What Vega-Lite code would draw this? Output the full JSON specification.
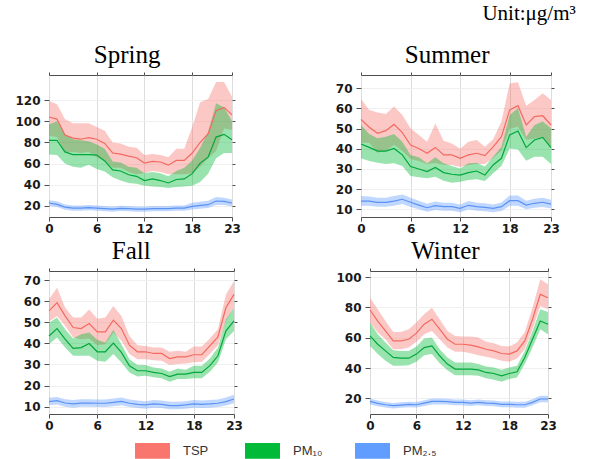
{
"$schema": "https://vega.github.io/schema/vega-lite/v6.json",
"padding": {"left": 13, "top": 3, "right": 0, "bottom": 0},
"title": {"text": "Unit:μg/m³", "anchor": "end", "fontSize": 21, "dx": 16, "offset": 1, "frame": "bounds", "baseline": "alphabetic"},
"datasets": {"d": [
{"s":"Spring","h":0,"p":"TSP","m":104,"lo":86,"hi":119},
{"s":"Spring","h":1,"p":"TSP","m":102,"lo":85,"hi":116},
{"s":"Spring","h":2,"p":"TSP","m":87,"lo":71,"hi":102},
{"s":"Spring","h":3,"p":"TSP","m":84,"lo":71,"hi":98},
{"s":"Spring","h":4,"p":"TSP","m":83,"lo":70,"hi":98},
{"s":"Spring","h":5,"p":"TSP","m":84.5,"lo":71,"hi":98},
{"s":"Spring","h":6,"p":"TSP","m":83,"lo":66,"hi":94.5},
{"s":"Spring","h":7,"p":"TSP","m":79,"lo":63,"hi":91},
{"s":"Spring","h":8,"p":"TSP","m":70,"lo":56,"hi":80},
{"s":"Spring","h":9,"p":"TSP","m":69,"lo":56,"hi":79},
{"s":"Spring","h":10,"p":"TSP","m":67,"lo":52,"hi":76},
{"s":"Spring","h":11,"p":"TSP","m":65.5,"lo":50,"hi":75},
{"s":"Spring","h":12,"p":"TSP","m":60.5,"lo":51,"hi":68},
{"s":"Spring","h":13,"p":"TSP","m":62,"lo":53,"hi":69},
{"s":"Spring","h":14,"p":"TSP","m":61.5,"lo":52,"hi":68},
{"s":"Spring","h":15,"p":"TSP","m":58.5,"lo":50,"hi":66},
{"s":"Spring","h":16,"p":"TSP","m":63,"lo":50,"hi":74},
{"s":"Spring","h":17,"p":"TSP","m":63,"lo":50,"hi":74},
{"s":"Spring","h":18,"p":"TSP","m":70,"lo":51,"hi":94.5},
{"s":"Spring","h":19,"p":"TSP","m":80,"lo":57,"hi":118},
{"s":"Spring","h":20,"p":"TSP","m":88,"lo":65,"hi":121},
{"s":"Spring","h":21,"p":"TSP","m":110,"lo":72,"hi":137},
{"s":"Spring","h":22,"p":"TSP","m":113,"lo":93,"hi":137},
{"s":"Spring","h":23,"p":"TSP","m":106,"lo":92,"hi":123},
{"s":"Spring","h":0,"p":"PM₁₀","m":82,"lo":68.5,"hi":97},
{"s":"Spring","h":1,"p":"PM₁₀","m":82,"lo":68,"hi":100},
{"s":"Spring","h":2,"p":"PM₁₀","m":71,"lo":60,"hi":88},
{"s":"Spring","h":3,"p":"PM₁₀","m":68.5,"lo":57,"hi":83},
{"s":"Spring","h":4,"p":"PM₁₀","m":68.5,"lo":56,"hi":82},
{"s":"Spring","h":5,"p":"PM₁₀","m":68.5,"lo":59,"hi":81},
{"s":"Spring","h":6,"p":"PM₁₀","m":68,"lo":55,"hi":78},
{"s":"Spring","h":7,"p":"PM₁₀","m":62.5,"lo":52.5,"hi":74},
{"s":"Spring","h":8,"p":"PM₁₀","m":54,"lo":47,"hi":62},
{"s":"Spring","h":9,"p":"PM₁₀","m":53,"lo":44,"hi":61},
{"s":"Spring","h":10,"p":"PM₁₀","m":49.5,"lo":41.7,"hi":57},
{"s":"Spring","h":11,"p":"PM₁₀","m":48,"lo":41,"hi":56},
{"s":"Spring","h":12,"p":"PM₁₀","m":44,"lo":39,"hi":51},
{"s":"Spring","h":13,"p":"PM₁₀","m":45.5,"lo":38.5,"hi":52},
{"s":"Spring","h":14,"p":"PM₁₀","m":44,"lo":38,"hi":51},
{"s":"Spring","h":15,"p":"PM₁₀","m":41.7,"lo":37,"hi":48},
{"s":"Spring","h":16,"p":"PM₁₀","m":45,"lo":38,"hi":53},
{"s":"Spring","h":17,"p":"PM₁₀","m":45.5,"lo":38.5,"hi":56},
{"s":"Spring","h":18,"p":"PM₁₀","m":50.5,"lo":39,"hi":63},
{"s":"Spring","h":19,"p":"PM₁₀","m":60.5,"lo":42.6,"hi":75},
{"s":"Spring","h":20,"p":"PM₁₀","m":66,"lo":50.5,"hi":90},
{"s":"Spring","h":21,"p":"PM₁₀","m":85,"lo":65,"hi":117},
{"s":"Spring","h":22,"p":"PM₁₀","m":87.6,"lo":70,"hi":113},
{"s":"Spring","h":23,"p":"PM₁₀","m":82.5,"lo":70,"hi":100},
{"s":"Spring","h":0,"p":"PM₂.₅","m":22.8,"lo":20,"hi":25.5},
{"s":"Spring","h":1,"p":"PM₂.₅","m":21.5,"lo":19,"hi":24.5},
{"s":"Spring","h":2,"p":"PM₂.₅","m":19,"lo":16.5,"hi":21.5},
{"s":"Spring","h":3,"p":"PM₂.₅","m":18,"lo":15.5,"hi":20.5},
{"s":"Spring","h":4,"p":"PM₂.₅","m":18,"lo":15.5,"hi":20.5},
{"s":"Spring","h":5,"p":"PM₂.₅","m":18.5,"lo":16,"hi":21},
{"s":"Spring","h":6,"p":"PM₂.₅","m":18,"lo":15.5,"hi":20.5},
{"s":"Spring","h":7,"p":"PM₂.₅","m":17.5,"lo":15,"hi":20},
{"s":"Spring","h":8,"p":"PM₂.₅","m":17,"lo":14.5,"hi":19.5},
{"s":"Spring","h":9,"p":"PM₂.₅","m":17.8,"lo":15.3,"hi":20.3},
{"s":"Spring","h":10,"p":"PM₂.₅","m":17.5,"lo":15,"hi":20},
{"s":"Spring","h":11,"p":"PM₂.₅","m":17,"lo":14.5,"hi":19.5},
{"s":"Spring","h":12,"p":"PM₂.₅","m":17,"lo":14.5,"hi":19.5},
{"s":"Spring","h":13,"p":"PM₂.₅","m":17.5,"lo":15,"hi":20},
{"s":"Spring","h":14,"p":"PM₂.₅","m":17.5,"lo":15,"hi":20},
{"s":"Spring","h":15,"p":"PM₂.₅","m":17.5,"lo":15,"hi":20},
{"s":"Spring","h":16,"p":"PM₂.₅","m":18,"lo":15.5,"hi":20.5},
{"s":"Spring","h":17,"p":"PM₂.₅","m":18,"lo":15.5,"hi":20.5},
{"s":"Spring","h":18,"p":"PM₂.₅","m":19.7,"lo":16.7,"hi":23},
{"s":"Spring","h":19,"p":"PM₂.₅","m":20.6,"lo":17.3,"hi":24},
{"s":"Spring","h":20,"p":"PM₂.₅","m":21.2,"lo":18,"hi":25},
{"s":"Spring","h":21,"p":"PM₂.₅","m":24.7,"lo":21,"hi":28.5},
{"s":"Spring","h":22,"p":"PM₂.₅","m":24.4,"lo":21,"hi":27.8},
{"s":"Spring","h":23,"p":"PM₂.₅","m":22.8,"lo":19.5,"hi":26},
{"s":"Summer","h":0,"p":"TSP","m":54.6,"lo":43,"hi":64.7},
{"s":"Summer","h":1,"p":"TSP","m":50.7,"lo":43,"hi":59.3},
{"s":"Summer","h":2,"p":"TSP","m":47.7,"lo":38,"hi":58},
{"s":"Summer","h":3,"p":"TSP","m":49,"lo":39,"hi":57.3},
{"s":"Summer","h":4,"p":"TSP","m":52.1,"lo":42,"hi":61},
{"s":"Summer","h":5,"p":"TSP","m":48,"lo":39,"hi":56.8},
{"s":"Summer","h":6,"p":"TSP","m":41.9,"lo":35,"hi":50.2},
{"s":"Summer","h":7,"p":"TSP","m":40.2,"lo":34,"hi":46.9},
{"s":"Summer","h":8,"p":"TSP","m":37.8,"lo":32.5,"hi":43.5},
{"s":"Summer","h":9,"p":"TSP","m":40.7,"lo":33,"hi":52.6},
{"s":"Summer","h":10,"p":"TSP","m":37,"lo":32,"hi":44},
{"s":"Summer","h":11,"p":"TSP","m":37,"lo":32,"hi":42.7},
{"s":"Summer","h":12,"p":"TSP","m":35.3,"lo":31,"hi":40},
{"s":"Summer","h":13,"p":"TSP","m":37,"lo":32,"hi":43.5},
{"s":"Summer","h":14,"p":"TSP","m":37.8,"lo":32.5,"hi":44.4},
{"s":"Summer","h":15,"p":"TSP","m":36.6,"lo":32.5,"hi":41},
{"s":"Summer","h":16,"p":"TSP","m":41,"lo":35.5,"hi":44.7},
{"s":"Summer","h":17,"p":"TSP","m":46,"lo":39,"hi":53.5},
{"s":"Summer","h":18,"p":"TSP","m":59.3,"lo":50,"hi":72.5},
{"s":"Summer","h":19,"p":"TSP","m":61.4,"lo":51,"hi":73},
{"s":"Summer","h":20,"p":"TSP","m":51.8,"lo":44.5,"hi":61.4},
{"s":"Summer","h":21,"p":"TSP","m":56,"lo":45,"hi":64.2},
{"s":"Summer","h":22,"p":"TSP","m":56.4,"lo":46,"hi":67.5},
{"s":"Summer","h":23,"p":"TSP","m":51.8,"lo":41,"hi":64.2},
{"s":"Summer","h":0,"p":"PM₁₀","m":42.4,"lo":35.3,"hi":51.8},
{"s":"Summer","h":1,"p":"PM₁₀","m":40.7,"lo":34,"hi":47.4},
{"s":"Summer","h":2,"p":"PM₁₀","m":38.9,"lo":33.1,"hi":45.2},
{"s":"Summer","h":3,"p":"PM₁₀","m":38.9,"lo":32.5,"hi":46},
{"s":"Summer","h":4,"p":"PM₁₀","m":40.2,"lo":32.8,"hi":47.4},
{"s":"Summer","h":5,"p":"PM₁₀","m":37,"lo":31.5,"hi":43.5},
{"s":"Summer","h":6,"p":"PM₁₀","m":31.2,"lo":26.5,"hi":37},
{"s":"Summer","h":7,"p":"PM₁₀","m":30,"lo":25.9,"hi":35.8},
{"s":"Summer","h":8,"p":"PM₁₀","m":28.7,"lo":25.4,"hi":32.8},
{"s":"Summer","h":9,"p":"PM₁₀","m":30.8,"lo":26.2,"hi":35.8},
{"s":"Summer","h":10,"p":"PM₁₀","m":28.2,"lo":24.2,"hi":32.8},
{"s":"Summer","h":11,"p":"PM₁₀","m":27.4,"lo":23.2,"hi":31.5},
{"s":"Summer","h":12,"p":"PM₁₀","m":27,"lo":23.7,"hi":30.3},
{"s":"Summer","h":13,"p":"PM₁₀","m":28.2,"lo":24.5,"hi":32.8},
{"s":"Summer","h":14,"p":"PM₁₀","m":29,"lo":24.9,"hi":33.1},
{"s":"Summer","h":15,"p":"PM₁₀","m":27,"lo":24,"hi":31.2},
{"s":"Summer","h":16,"p":"PM₁₀","m":32,"lo":27.9,"hi":36.1},
{"s":"Summer","h":17,"p":"PM₁₀","m":35.3,"lo":31.5,"hi":41},
{"s":"Summer","h":18,"p":"PM₁₀","m":46.9,"lo":40.2,"hi":56.8},
{"s":"Summer","h":19,"p":"PM₁₀","m":48.8,"lo":39.7,"hi":60.1},
{"s":"Summer","h":20,"p":"PM₁₀","m":40.6,"lo":34.1,"hi":46},
{"s":"Summer","h":21,"p":"PM₁₀","m":44.4,"lo":36.1,"hi":51.8},
{"s":"Summer","h":22,"p":"PM₁₀","m":45.7,"lo":36.1,"hi":53.5},
{"s":"Summer","h":23,"p":"PM₁₀","m":40.6,"lo":32.5,"hi":50.2},
{"s":"Summer","h":0,"p":"PM₂.₅","m":14.1,"lo":11.8,"hi":16.6},
{"s":"Summer","h":1,"p":"PM₂.₅","m":14.1,"lo":11.8,"hi":16.4},
{"s":"Summer","h":2,"p":"PM₂.₅","m":13.5,"lo":11.3,"hi":15.8},
{"s":"Summer","h":3,"p":"PM₂.₅","m":13.5,"lo":11.3,"hi":15.8},
{"s":"Summer","h":4,"p":"PM₂.₅","m":14.1,"lo":11.8,"hi":16.6},
{"s":"Summer","h":5,"p":"PM₂.₅","m":15,"lo":12.6,"hi":17.3},
{"s":"Summer","h":6,"p":"PM₂.₅","m":13.5,"lo":11.2,"hi":15.8},
{"s":"Summer","h":7,"p":"PM₂.₅","m":12.1,"lo":10,"hi":14.3},
{"s":"Summer","h":8,"p":"PM₂.₅","m":10.8,"lo":8.8,"hi":12.8},
{"s":"Summer","h":9,"p":"PM₂.₅","m":11.8,"lo":9.7,"hi":13.9},
{"s":"Summer","h":10,"p":"PM₂.₅","m":11.3,"lo":9.3,"hi":13.3},
{"s":"Summer","h":11,"p":"PM₂.₅","m":11.3,"lo":9.3,"hi":13.3},
{"s":"Summer","h":12,"p":"PM₂.₅","m":10.5,"lo":8.6,"hi":12.4},
{"s":"Summer","h":13,"p":"PM₂.₅","m":12,"lo":9.9,"hi":14.1},
{"s":"Summer","h":14,"p":"PM₂.₅","m":11.3,"lo":9.3,"hi":13.3},
{"s":"Summer","h":15,"p":"PM₂.₅","m":11,"lo":9,"hi":13},
{"s":"Summer","h":16,"p":"PM₂.₅","m":10.5,"lo":8.6,"hi":12.4},
{"s":"Summer","h":17,"p":"PM₂.₅","m":11.3,"lo":9.2,"hi":13.4},
{"s":"Summer","h":18,"p":"PM₂.₅","m":14.3,"lo":11.8,"hi":16.8},
{"s":"Summer","h":19,"p":"PM₂.₅","m":14.3,"lo":11.8,"hi":16.8},
{"s":"Summer","h":20,"p":"PM₂.₅","m":12.1,"lo":10,"hi":14.2},
{"s":"Summer","h":21,"p":"PM₂.₅","m":13,"lo":10.8,"hi":15.2},
{"s":"Summer","h":22,"p":"PM₂.₅","m":13.5,"lo":11.2,"hi":15.8},
{"s":"Summer","h":23,"p":"PM₂.₅","m":12.6,"lo":10.4,"hi":14.8},
{"s":"Fall","h":0,"p":"TSP","m":55.4,"lo":50.2,"hi":60.9},
{"s":"Fall","h":1,"p":"TSP","m":59.3,"lo":53,"hi":66.4},
{"s":"Fall","h":2,"p":"TSP","m":53,"lo":48.3,"hi":57},
{"s":"Fall","h":3,"p":"TSP","m":47.5,"lo":42.8,"hi":52.2},
{"s":"Fall","h":4,"p":"TSP","m":47,"lo":42,"hi":52.2},
{"s":"Fall","h":5,"p":"TSP","m":49.4,"lo":42.3,"hi":56.1},
{"s":"Fall","h":6,"p":"TSP","m":45.4,"lo":39.1,"hi":51.7},
{"s":"Fall","h":7,"p":"TSP","m":45.4,"lo":39.6,"hi":52.2},
{"s":"Fall","h":8,"p":"TSP","m":51,"lo":45.1,"hi":57.7},
{"s":"Fall","h":9,"p":"TSP","m":47,"lo":41.2,"hi":53},
{"s":"Fall","h":10,"p":"TSP","m":39.1,"lo":34.9,"hi":43.5},
{"s":"Fall","h":11,"p":"TSP","m":36,"lo":32.5,"hi":39.1},
{"s":"Fall","h":12,"p":"TSP","m":36,"lo":32.5,"hi":38.8},
{"s":"Fall","h":13,"p":"TSP","m":35.2,"lo":32,"hi":38},
{"s":"Fall","h":14,"p":"TSP","m":35.2,"lo":31.7,"hi":38},
{"s":"Fall","h":15,"p":"TSP","m":32.8,"lo":29.7,"hi":36},
{"s":"Fall","h":16,"p":"TSP","m":33.6,"lo":30.2,"hi":36.5},
{"s":"Fall","h":17,"p":"TSP","m":33.6,"lo":30.5,"hi":36},
{"s":"Fall","h":18,"p":"TSP","m":34.6,"lo":31,"hi":38.5},
{"s":"Fall","h":19,"p":"TSP","m":34.6,"lo":31.3,"hi":38.5},
{"s":"Fall","h":20,"p":"TSP","m":38.8,"lo":34.9,"hi":42.3},
{"s":"Fall","h":21,"p":"TSP","m":43,"lo":39.1,"hi":46.7},
{"s":"Fall","h":22,"p":"TSP","m":57,"lo":50.6,"hi":63.2},
{"s":"Fall","h":23,"p":"TSP","m":63.2,"lo":57,"hi":69.5},
{"s":"Fall","h":0,"p":"PM₁₀","m":43.5,"lo":39.6,"hi":49.8},
{"s":"Fall","h":1,"p":"PM₁₀","m":47,"lo":42.8,"hi":52.2},
{"s":"Fall","h":2,"p":"PM₁₀","m":42,"lo":38,"hi":46.7},
{"s":"Fall","h":3,"p":"PM₁₀","m":37.6,"lo":34.1,"hi":42.3},
{"s":"Fall","h":4,"p":"PM₁₀","m":38,"lo":34.1,"hi":44.3},
{"s":"Fall","h":5,"p":"PM₁₀","m":39.9,"lo":34.1,"hi":45.1},
{"s":"Fall","h":6,"p":"PM₁₀","m":36,"lo":31.7,"hi":41.7},
{"s":"Fall","h":7,"p":"PM₁₀","m":36,"lo":31.3,"hi":40.4},
{"s":"Fall","h":8,"p":"PM₁₀","m":40.1,"lo":34.9,"hi":46.4},
{"s":"Fall","h":9,"p":"PM₁₀","m":35.7,"lo":30.9,"hi":39.6},
{"s":"Fall","h":10,"p":"PM₁₀","m":29.4,"lo":26.2,"hi":32.5},
{"s":"Fall","h":11,"p":"PM₁₀","m":27,"lo":24.3,"hi":29.7},
{"s":"Fall","h":12,"p":"PM₁₀","m":27,"lo":24.6,"hi":29.7},
{"s":"Fall","h":13,"p":"PM₁₀","m":26.2,"lo":23.9,"hi":28.6},
{"s":"Fall","h":14,"p":"PM₁₀","m":25.7,"lo":23.4,"hi":28.1},
{"s":"Fall","h":15,"p":"PM₁₀","m":24.2,"lo":21.8,"hi":26.5},
{"s":"Fall","h":16,"p":"PM₁₀","m":25.4,"lo":23.1,"hi":28.1},
{"s":"Fall","h":17,"p":"PM₁₀","m":25.4,"lo":23.1,"hi":27.5},
{"s":"Fall","h":18,"p":"PM₁₀","m":26.2,"lo":23.4,"hi":29.4},
{"s":"Fall","h":19,"p":"PM₁₀","m":26.2,"lo":23.4,"hi":29.4},
{"s":"Fall","h":20,"p":"PM₁₀","m":29.4,"lo":26.5,"hi":32.8},
{"s":"Fall","h":21,"p":"PM₁₀","m":34.1,"lo":30.9,"hi":38},
{"s":"Fall","h":22,"p":"PM₁₀","m":45.9,"lo":42,"hi":51.4},
{"s":"Fall","h":23,"p":"PM₁₀","m":50.6,"lo":45.9,"hi":56.9},
{"s":"Fall","h":0,"p":"PM₂.₅","m":12.4,"lo":10.6,"hi":14.2},
{"s":"Fall","h":1,"p":"PM₂.₅","m":12.8,"lo":11,"hi":14.6},
{"s":"Fall","h":2,"p":"PM₂.₅","m":11.7,"lo":9.9,"hi":13.5},
{"s":"Fall","h":3,"p":"PM₂.₅","m":11.3,"lo":9.5,"hi":13.1},
{"s":"Fall","h":4,"p":"PM₂.₅","m":11.7,"lo":9.9,"hi":13.5},
{"s":"Fall","h":5,"p":"PM₂.₅","m":11.7,"lo":9.9,"hi":13.5},
{"s":"Fall","h":6,"p":"PM₂.₅","m":11.6,"lo":9.8,"hi":13.4},
{"s":"Fall","h":7,"p":"PM₂.₅","m":11.6,"lo":9.8,"hi":13.4},
{"s":"Fall","h":8,"p":"PM₂.₅","m":12,"lo":10.2,"hi":13.8},
{"s":"Fall","h":9,"p":"PM₂.₅","m":12.5,"lo":10.7,"hi":14.3},
{"s":"Fall","h":10,"p":"PM₂.₅","m":11.6,"lo":9.8,"hi":13.4},
{"s":"Fall","h":11,"p":"PM₂.₅","m":11.1,"lo":9.3,"hi":12.9},
{"s":"Fall","h":12,"p":"PM₂.₅","m":10.8,"lo":9,"hi":12.6},
{"s":"Fall","h":13,"p":"PM₂.₅","m":11.3,"lo":9.5,"hi":13.1},
{"s":"Fall","h":14,"p":"PM₂.₅","m":11.1,"lo":9.3,"hi":12.9},
{"s":"Fall","h":15,"p":"PM₂.₅","m":10.5,"lo":8.7,"hi":12.3},
{"s":"Fall","h":16,"p":"PM₂.₅","m":10.5,"lo":8.7,"hi":12.3},
{"s":"Fall","h":17,"p":"PM₂.₅","m":10.8,"lo":9,"hi":12.6},
{"s":"Fall","h":18,"p":"PM₂.₅","m":11.3,"lo":9.5,"hi":13.1},
{"s":"Fall","h":19,"p":"PM₂.₅","m":11.1,"lo":9.3,"hi":12.9},
{"s":"Fall","h":20,"p":"PM₂.₅","m":11.3,"lo":9.5,"hi":13.1},
{"s":"Fall","h":21,"p":"PM₂.₅","m":11.6,"lo":9.8,"hi":13.4},
{"s":"Fall","h":22,"p":"PM₂.₅","m":12.4,"lo":10.5,"hi":14.3},
{"s":"Fall","h":23,"p":"PM₂.₅","m":13.6,"lo":11.6,"hi":15.6},
{"s":"Winter","h":0,"p":"TSP","m":78.3,"lo":70,"hi":86.4},
{"s":"Winter","h":1,"p":"TSP","m":71,"lo":63.4,"hi":78.7},
{"s":"Winter","h":2,"p":"TSP","m":64.5,"lo":59,"hi":71},
{"s":"Winter","h":3,"p":"TSP","m":57.9,"lo":52.4,"hi":63.8},
{"s":"Winter","h":4,"p":"TSP","m":57.9,"lo":52.4,"hi":63.8},
{"s":"Winter","h":5,"p":"TSP","m":59,"lo":53.5,"hi":65.6},
{"s":"Winter","h":6,"p":"TSP","m":63,"lo":57.3,"hi":70},
{"s":"Winter","h":7,"p":"TSP","m":68.9,"lo":62.3,"hi":75.5},
{"s":"Winter","h":8,"p":"TSP","m":72.2,"lo":64.5,"hi":79.8},
{"s":"Winter","h":9,"p":"TSP","m":65.6,"lo":59,"hi":72.2},
{"s":"Winter","h":10,"p":"TSP","m":59,"lo":53.5,"hi":64.5},
{"s":"Winter","h":11,"p":"TSP","m":55.7,"lo":50.7,"hi":61.2},
{"s":"Winter","h":12,"p":"TSP","m":55.7,"lo":50.7,"hi":60.8},
{"s":"Winter","h":13,"p":"TSP","m":55.1,"lo":49.8,"hi":60.8},
{"s":"Winter","h":14,"p":"TSP","m":54,"lo":48.5,"hi":60.1},
{"s":"Winter","h":15,"p":"TSP","m":52.4,"lo":47.4,"hi":57.3},
{"s":"Winter","h":16,"p":"TSP","m":51.3,"lo":46.3,"hi":56.4},
{"s":"Winter","h":17,"p":"TSP","m":49.6,"lo":44.8,"hi":54.6},
{"s":"Winter","h":18,"p":"TSP","m":49.2,"lo":44.1,"hi":54.2},
{"s":"Winter","h":19,"p":"TSP","m":51.3,"lo":46.3,"hi":56.8},
{"s":"Winter","h":20,"p":"TSP","m":57.9,"lo":52.4,"hi":63.8},
{"s":"Winter","h":21,"p":"TSP","m":72.2,"lo":65.6,"hi":79.8},
{"s":"Winter","h":22,"p":"TSP","m":88.6,"lo":80.9,"hi":98.5},
{"s":"Winter","h":23,"p":"TSP","m":86.4,"lo":78.7,"hi":95.2},
{"s":"Winter","h":0,"p":"PM₁₀","m":61.2,"lo":54.6,"hi":70},
{"s":"Winter","h":1,"p":"PM₁₀","m":55.7,"lo":49.2,"hi":62.3},
{"s":"Winter","h":2,"p":"PM₁₀","m":51.3,"lo":44.8,"hi":56.8},
{"s":"Winter","h":3,"p":"PM₁₀","m":47,"lo":41.5,"hi":51.8},
{"s":"Winter","h":4,"p":"PM₁₀","m":46.5,"lo":41.5,"hi":51.3},
{"s":"Winter","h":5,"p":"PM₁₀","m":46.5,"lo":41.9,"hi":51.3},
{"s":"Winter","h":6,"p":"PM₁₀","m":49.2,"lo":44.1,"hi":54.2},
{"s":"Winter","h":7,"p":"PM₁₀","m":53.5,"lo":48.5,"hi":59.5},
{"s":"Winter","h":8,"p":"PM₁₀","m":54.6,"lo":49.2,"hi":60.1},
{"s":"Winter","h":9,"p":"PM₁₀","m":48.1,"lo":43.2,"hi":52.4},
{"s":"Winter","h":10,"p":"PM₁₀","m":42.6,"lo":38.6,"hi":47},
{"s":"Winter","h":11,"p":"PM₁₀","m":39.3,"lo":35.3,"hi":43.7},
{"s":"Winter","h":12,"p":"PM₁₀","m":39.3,"lo":35.3,"hi":43.7},
{"s":"Winter","h":13,"p":"PM₁₀","m":39.3,"lo":35.3,"hi":43.7},
{"s":"Winter","h":14,"p":"PM₁₀","m":38.8,"lo":34.9,"hi":42.6},
{"s":"Winter","h":15,"p":"PM₁₀","m":37.1,"lo":33.2,"hi":41},
{"s":"Winter","h":16,"p":"PM₁₀","m":36.4,"lo":32.3,"hi":40.4},
{"s":"Winter","h":17,"p":"PM₁₀","m":34.9,"lo":31,"hi":38.8},
{"s":"Winter","h":18,"p":"PM₁₀","m":36.4,"lo":32.7,"hi":40.4},
{"s":"Winter","h":19,"p":"PM₁₀","m":37.5,"lo":33.8,"hi":41.5},
{"s":"Winter","h":20,"p":"PM₁₀","m":47,"lo":42.6,"hi":51.3},
{"s":"Winter","h":21,"p":"PM₁₀","m":59,"lo":53.5,"hi":64.5},
{"s":"Winter","h":22,"p":"PM₁₀","m":71,"lo":65.6,"hi":78.7},
{"s":"Winter","h":23,"p":"PM₁₀","m":68.9,"lo":62.3,"hi":77},
{"s":"Winter","h":0,"p":"PM₂.₅","m":18,"lo":16,"hi":20},
{"s":"Winter","h":1,"p":"PM₂.₅","m":16.7,"lo":14.8,"hi":18.6},
{"s":"Winter","h":2,"p":"PM₂.₅","m":15.8,"lo":14,"hi":17.6},
{"s":"Winter","h":3,"p":"PM₂.₅","m":15.2,"lo":13.4,"hi":17},
{"s":"Winter","h":4,"p":"PM₂.₅","m":15.6,"lo":13.8,"hi":17.4},
{"s":"Winter","h":5,"p":"PM₂.₅","m":16,"lo":14.2,"hi":17.8},
{"s":"Winter","h":6,"p":"PM₂.₅","m":15.8,"lo":14,"hi":17.6},
{"s":"Winter","h":7,"p":"PM₂.₅","m":16.9,"lo":15,"hi":18.8},
{"s":"Winter","h":8,"p":"PM₂.₅","m":18,"lo":16,"hi":20},
{"s":"Winter","h":9,"p":"PM₂.₅","m":18,"lo":16,"hi":20},
{"s":"Winter","h":10,"p":"PM₂.₅","m":17.8,"lo":15.9,"hi":19.7},
{"s":"Winter","h":11,"p":"PM₂.₅","m":17.4,"lo":15.5,"hi":19.3},
{"s":"Winter","h":12,"p":"PM₂.₅","m":17.4,"lo":15.5,"hi":19.3},
{"s":"Winter","h":13,"p":"PM₂.₅","m":16.9,"lo":15,"hi":18.8},
{"s":"Winter","h":14,"p":"PM₂.₅","m":17.4,"lo":15.5,"hi":19.3},
{"s":"Winter","h":15,"p":"PM₂.₅","m":16.9,"lo":15,"hi":18.8},
{"s":"Winter","h":16,"p":"PM₂.₅","m":16.7,"lo":14.8,"hi":18.6},
{"s":"Winter","h":17,"p":"PM₂.₅","m":16,"lo":14.1,"hi":17.9},
{"s":"Winter","h":18,"p":"PM₂.₅","m":16,"lo":14.1,"hi":17.9},
{"s":"Winter","h":19,"p":"PM₂.₅","m":15.8,"lo":13.9,"hi":17.7},
{"s":"Winter","h":20,"p":"PM₂.₅","m":15.8,"lo":13.9,"hi":17.7},
{"s":"Winter","h":21,"p":"PM₂.₅","m":17.4,"lo":15.4,"hi":19.4},
{"s":"Winter","h":22,"p":"PM₂.₅","m":19.6,"lo":17.5,"hi":21.7},
{"s":"Winter","h":23,"p":"PM₂.₅","m":19.6,"lo":17.5,"hi":21.7}
]},
"data": {"name": "d"},
"columns": 2,
"align": "none",
"spacing": {"column": 91, "row": 3},
"concat": [
{
 "width": 183, "height": 142,
 "title": {"text": "Spring"},
 "transform": [{"filter": "datum.s === 'Spring'"}],
 "layer": [
  {"mark": {"type": "area", "opacity": 0.4},
   "encoding": {
    "x": {"field": "h", "type": "quantitative", "scale": {"domain": [0, 23], "nice": false, "zero": false}, "axis": {"orient": "bottom", "values": [0,6,12,18,23], "title": null, "grid": true, "gridColor": "#dcdcdc", "tickSize": 4, "labelPadding": 2}},
    "y": {"field": "lo", "type": "quantitative", "stack": null, "scale": {"domain": [9.6, 143.6], "nice": false, "zero": false}, "axis": {"orient": "left", "values": [20,40,60,80,100,120], "title": null, "grid": true, "gridColor": "#f0f0f0", "tickSize": 5, "labelPadding": 4, "minExtent": 35, "maxExtent": 35}},
    "y2": {"field": "hi"},
    "color": {"field": "p", "type": "nominal", "sort": null, "scale": {"domain": ["TSP","PM₁₀","PM₂.₅"], "range": ["#F8766D","#00BA38","#619CFF"]}, "legend": {"orient": "none", "legendX": 86, "legendY": 358, "direction": "horizontal", "title": null, "columns": 3}}
   }},
  {"mark": {"type": "line", "strokeWidth": 1.2},
   "encoding": {
    "x": {"field": "h", "type": "quantitative", "axis": {"orient": "top", "values": [0,6,12,18,23], "title": null, "labels": false, "grid": false, "tickSize": 3, "minExtent": 3, "maxExtent": 3}},
    "y": {"field": "m", "type": "quantitative", "axis": {"orient": "right", "values": [20,40,60,80,100,120], "title": null, "labels": false, "grid": false, "tickSize": 3, "minExtent": 3, "maxExtent": 3}},
    "stroke": {"field": "p", "type": "nominal", "scale": {"domain": ["TSP","PM₁₀","PM₂.₅"], "range": ["#F26A60","#00A83A","#5B92F5"]}, "legend": null}
   }}
 ],
 "resolve": {"axis": {"x": "independent", "y": "independent"}}
},
{
 "width": 190, "height": 142,
 "title": {"text": "Summer"},
 "transform": [{"filter": "datum.s === 'Summer'"}],
 "layer": [
  {"mark": {"type": "area", "opacity": 0.4},
   "encoding": {
    "x": {"field": "h", "type": "quantitative", "scale": {"domain": [0, 23], "nice": false, "zero": false}, "axis": {"orient": "bottom", "values": [0,6,12,18,23], "title": null, "grid": true, "gridColor": "#dcdcdc", "tickSize": 4, "labelPadding": 2}},
    "y": {"field": "lo", "type": "quantitative", "stack": null, "scale": {"domain": [6.2, 76.6], "nice": false, "zero": false}, "axis": {"orient": "left", "values": [10,20,30,40,50,60,70], "title": null, "grid": true, "gridColor": "#f0f0f0", "tickSize": 5, "labelPadding": 4, "minExtent": 26, "maxExtent": 26}},
    "y2": {"field": "hi"},
    "color": {"field": "p", "type": "nominal", "sort": null, "scale": {"domain": ["TSP","PM₁₀","PM₂.₅"], "range": ["#F8766D","#00BA38","#619CFF"]}, "legend": {"orient": "none", "legendX": 86, "legendY": 358, "direction": "horizontal", "title": null, "columns": 3}}
   }},
  {"mark": {"type": "line", "strokeWidth": 1.2},
   "encoding": {
    "x": {"field": "h", "type": "quantitative", "axis": {"orient": "top", "values": [0,6,12,18,23], "title": null, "labels": false, "grid": false, "tickSize": 3, "minExtent": 3, "maxExtent": 3}},
    "y": {"field": "m", "type": "quantitative", "axis": {"orient": "right", "values": [10,20,30,40,50,60,70], "title": null, "labels": false, "grid": false, "tickSize": 3, "minExtent": 3, "maxExtent": 3}},
    "stroke": {"field": "p", "type": "nominal", "scale": {"domain": ["TSP","PM₁₀","PM₂.₅"], "range": ["#F26A60","#00A83A","#5B92F5"]}, "legend": null}
   }}
 ],
 "resolve": {"axis": {"x": "independent", "y": "independent"}}
},
{
 "width": 185, "height": 143,
 "title": {"text": "Fall"},
 "transform": [{"filter": "datum.s === 'Fall'"}],
 "layer": [
  {"mark": {"type": "area", "opacity": 0.4},
   "encoding": {
    "x": {"field": "h", "type": "quantitative", "scale": {"domain": [0, 23], "nice": false, "zero": false}, "axis": {"orient": "bottom", "values": [0,6,12,18,23], "title": null, "grid": true, "gridColor": "#dcdcdc", "tickSize": 4, "labelPadding": 2}},
    "y": {"field": "lo", "type": "quantitative", "stack": null, "scale": {"domain": [6.5, 74.3], "nice": false, "zero": false}, "axis": {"orient": "left", "values": [10,20,30,40,50,60,70], "title": null, "grid": true, "gridColor": "#f0f0f0", "tickSize": 5, "labelPadding": 4, "minExtent": 29, "maxExtent": 29}},
    "y2": {"field": "hi"},
    "color": {"field": "p", "type": "nominal", "sort": null, "scale": {"domain": ["TSP","PM₁₀","PM₂.₅"], "range": ["#F8766D","#00BA38","#619CFF"]}, "legend": {"orient": "none", "legendX": 86, "legendY": 358, "direction": "horizontal", "title": null, "columns": 3}}
   }},
  {"mark": {"type": "line", "strokeWidth": 1.2},
   "encoding": {
    "x": {"field": "h", "type": "quantitative", "axis": {"orient": "top", "values": [0,6,12,18,23], "title": null, "labels": false, "grid": false, "tickSize": 3, "minExtent": 3, "maxExtent": 3}},
    "y": {"field": "m", "type": "quantitative", "axis": {"orient": "right", "values": [10,20,30,40,50,60,70], "title": null, "labels": false, "grid": false, "tickSize": 3, "minExtent": 3, "maxExtent": 3}},
    "stroke": {"field": "p", "type": "nominal", "scale": {"domain": ["TSP","PM₁₀","PM₂.₅"], "range": ["#F26A60","#00A83A","#5B92F5"]}, "legend": null}
   }}
 ],
 "resolve": {"axis": {"x": "independent", "y": "independent"}}
},
{
 "width": 178, "height": 143,
 "title": {"text": "Winter"},
 "transform": [{"filter": "datum.s === 'Winter'"}],
 "layer": [
  {"mark": {"type": "area", "opacity": 0.4},
   "encoding": {
    "x": {"field": "h", "type": "quantitative", "scale": {"domain": [0, 23], "nice": false, "zero": false}, "axis": {"orient": "bottom", "values": [0,6,12,18,23], "title": null, "grid": true, "gridColor": "#dcdcdc", "tickSize": 4, "labelPadding": 2}},
    "y": {"field": "lo", "type": "quantitative", "stack": null, "scale": {"domain": [9.7, 104], "nice": false, "zero": false}, "axis": {"orient": "left", "values": [20,40,60,80,100], "title": null, "grid": true, "gridColor": "#f0f0f0", "tickSize": 5, "labelPadding": 4, "minExtent": 35.5, "maxExtent": 35.5}},
    "y2": {"field": "hi"},
    "color": {"field": "p", "type": "nominal", "sort": null, "scale": {"domain": ["TSP","PM₁₀","PM₂.₅"], "range": ["#F8766D","#00BA38","#619CFF"]}, "legend": {"orient": "none", "legendX": 86, "legendY": 358, "direction": "horizontal", "title": null, "columns": 3}}
   }},
  {"mark": {"type": "line", "strokeWidth": 1.2},
   "encoding": {
    "x": {"field": "h", "type": "quantitative", "axis": {"orient": "top", "values": [0,6,12,18,23], "title": null, "labels": false, "grid": false, "tickSize": 3, "minExtent": 3, "maxExtent": 3}},
    "y": {"field": "m", "type": "quantitative", "axis": {"orient": "right", "values": [20,40,60,80,100], "title": null, "labels": false, "grid": false, "tickSize": 3, "minExtent": 3, "maxExtent": 3}},
    "stroke": {"field": "p", "type": "nominal", "scale": {"domain": ["TSP","PM₁₀","PM₂.₅"], "range": ["#F26A60","#00A83A","#5B92F5"]}, "legend": null}
   }}
 ],
 "resolve": {"axis": {"x": "independent", "y": "independent"}}
}
],
"resolve": {"scale": {"color": "shared", "stroke": "shared"}, "legend": {"color": "shared"}},
"config": {
 "view": {"stroke": "#4d4d4d", "strokeWidth": 1},
 "axis": {"labelFont": "DejaVu Sans", "labelFontWeight": "bold", "labelFontSize": 12, "labelColor": "#1a1a1a", "tickColor": "#4d4d4d", "domain": false, "labelFlush": false},
 "title": {"font": "Liberation Serif", "fontSize": 25, "fontWeight": "normal", "color": "#000000", "frame": "bounds", "anchor": "middle", "baseline": "alphabetic", "offset": 4},
 "legend": {"gridAlign": "all", "symbolType": "M-1,-0.45H1V0.45H-1Z", "symbolSize": 1225, "symbolOpacity": 1, "symbolStrokeWidth": 0, "labelFont": "Liberation Sans, DejaVu Sans", "labelFontSize": 13, "labelColor": "#333333", "labelOffset": 13, "columnPadding": 28}
}
}
